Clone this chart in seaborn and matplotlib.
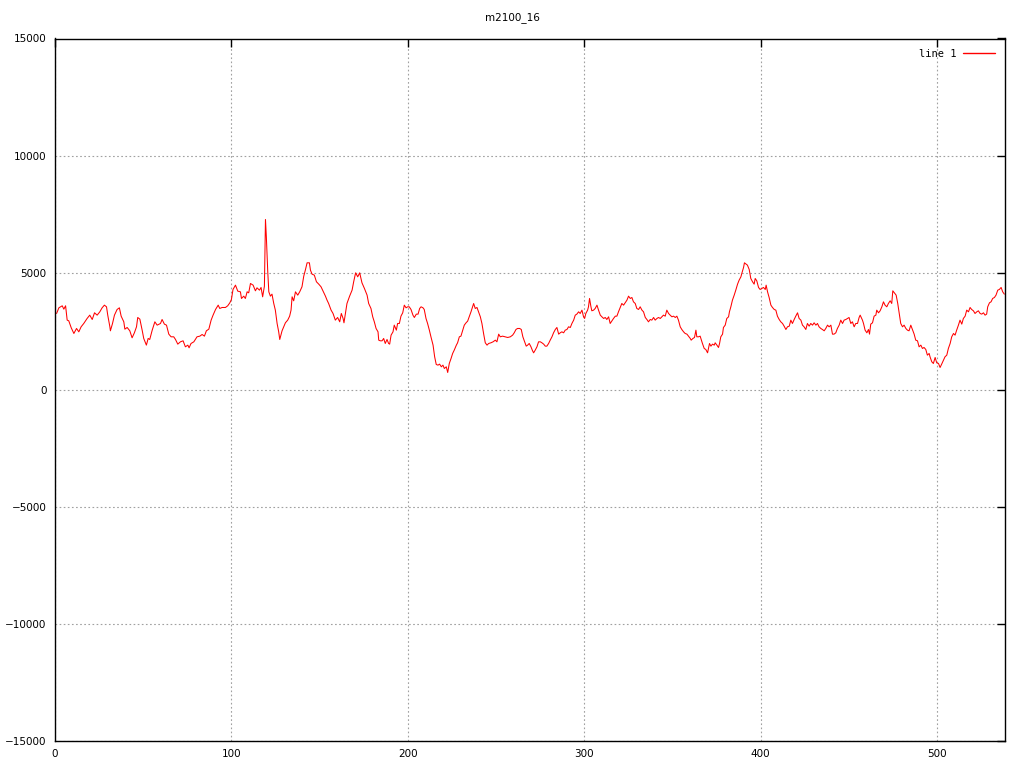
import pandas as pd
import matplotlib.pyplot as plt
import seaborn as sns

# values
title = 'm2100_16'
series_name = 'line 1'

idx = [0.9, 2.2, 4.1, 5.0, 6.0, 6.9, 7.8, 9.2, 10.7, 12.2, 13.5, 14.8, 16.3, 18.2, 19.7,
       21.1, 22.4, 23.9, 25.4, 26.7, 28.0, 29.2, 29.9, 31.1, 31.4, 32.6, 33.7, 35.2, 36.5,
       37.5, 39.0, 39.6, 40.9, 42.4, 43.7, 45.0, 46.2, 46.9, 48.1, 49.4, 50.3, 51.8, 52.8,
       53.7, 55.1, 56.6, 57.9, 59.8, 60.7, 62.0, 63.2, 64.5, 65.8, 67.3, 68.3, 69.6, 71.1,
       72.6, 73.9, 75.3, 76.0, 77.1, 78.7, 80.5, 82.1, 83.4, 84.7, 85.8, 87.2, 88.5, 89.6,
       91.0, 92.5, 93.4,
       94.7, 96.6, 97.9, 99.1, 100.0, 100.9, 102.3, 103.6, 105.1, 105.7, 107.0, 107.9,
       108.9, 109.8, 110.8, 112.3, 113.6, 114.5, 115.9, 116.8, 117.7, 118.7, 119.3, 119.8,
       120.6, 121.2, 122.1, 123.0, 124.0, 124.9, 125.9, 126.8, 127.4, 128.7, 130.6, 131.9,
       133.0, 133.8, 134.4, 135.3, 136.3, 137.6, 138.7, 140.0, 141.0, 141.9, 142.9, 144.2,
       144.8, 145.7, 147.0, 148.2, 149.5, 150.8, 151.9, 153.3, 154.2, 155.1, 156.5, 157.6,
       158.9, 160.2, 161.4, 162.3, 163.3, 163.8, 164.6, 165.5, 167.0, 168.4, 169.3, 170.4,
       171.6, 172.7, 174.0, 175.4, 176.9, 177.8, 179.1, 180.1, 181.0, 182.0, 183.1, 183.5,
       184.4,
       185.4, 186.3, 187.2, 188.2, 189.1, 189.7, 190.5, 191.6, 192.3, 193.5, 194.2, 195.2,
       196.1, 197.1, 198.0, 199.0, 199.9, 200.8, 201.8, 202.9, 203.7, 204.8, 205.8, 206.7,
       207.5, 208.6, 209.3, 210.3, 211.2, 212.2, 213.1, 214.3, 215.2, 216.1, 217.1, 218.0,
       219.0, 219.9, 220.7, 221.8, 222.6, 223.5, 224.5, 225.4, 226.3, 227.5, 228.2, 229.2,
       230.1, 231.1, 232.0, 233.0, 233.9, 234.8, 235.8, 236.7, 237.3, 238.2, 239.2, 240.1,
       241.1, 242.0, 243.0, 243.9, 244.9, 245.8, 247.1, 248.3, 249.6, 250.5, 251.5, 252.4,
       253.7, 255.2, 256.6, 258.1, 259.4, 260.3, 261.3, 262.2, 263.4, 264.3, 265.2, 266.2,
       267.1, 267.9, 268.8, 269.8, 270.7, 271.3, 272.2, 273.2, 274.1, 275.1,
       276.0, 277.0, 277.9, 278.8, 279.8, 280.7, 281.7, 282.6, 283.6, 284.5, 285.5, 286.4,
       287.3, 288.3, 289.2, 290.2, 291.1, 292.1, 293.0, 294.0, 294.9, 295.8, 296.8, 297.7,
       298.7, 299.6, 300.2, 300.9, 301.9, 302.4, 303.0, 303.8, 304.3, 305.3, 306.2, 307.2,
       308.1, 309.1, 310.0, 311.0, 311.9, 312.8, 313.8, 314.7, 315.7, 316.6, 317.6, 318.5,
       319.4, 320.4, 321.3, 322.3, 323.2, 324.2, 325.1, 326.1, 327.0, 327.9, 328.9, 329.8,
       330.8, 331.7, 332.7, 333.6, 334.6, 335.5, 336.4, 337.4, 338.3, 339.3, 340.2, 341.2,
       342.1, 343.1, 344.0, 344.9, 345.9, 346.8, 347.8, 348.7, 349.7, 350.6, 351.6, 352.5,
       353.4, 354.4, 355.3, 356.3, 357.2, 358.2, 359.1, 360.1, 360.6, 361.6, 362.5, 363.3,
       363.8, 364.8, 365.7,
       367.0, 368.0, 368.9, 369.9, 370.4, 371.0, 371.8, 372.7, 373.7, 374.2, 375.2, 376.1,
       376.7, 377.4, 378.4, 378.9, 379.9, 380.8, 381.8, 382.3, 383.1, 384.0, 385.0, 385.9,
       386.9, 387.8, 388.8, 389.3, 390.3, 390.8, 391.8, 392.5, 393.5, 394.4, 395.4, 396.3,
       396.9, 397.8, 398.8, 399.7, 400.7, 401.6, 402.6, 403.1, 403.9, 404.8, 405.8, 406.7,
       407.7, 408.6, 409.5, 410.5, 411.4, 412.4, 413.3, 414.3, 415.2, 416.2, 417.1, 418.0,
       419.0, 419.9, 420.9, 421.8, 422.8, 423.7, 424.6, 425.6, 426.5, 427.5, 428.4, 429.4,
       430.3, 431.3, 432.2, 433.1, 434.1, 435.0, 436.0, 436.9, 437.9, 438.8, 439.8, 440.7,
       441.6, 442.6, 443.5, 444.5, 445.4, 446.4, 447.3, 448.3, 449.2, 450.1, 451.1, 452.0,
       453.0, 453.9, 454.9, 455.8, 456.4,
       457.7, 458.3, 459.2, 460.2, 461.1, 461.7, 462.4, 463.4, 464.3, 465.3, 465.8, 466.8,
       467.7, 468.7, 469.6, 470.5, 471.5, 472.4, 473.4, 474.3, 474.9, 475.8, 476.8, 477.7,
       478.7, 479.4, 480.4, 481.3, 482.3, 483.2, 484.1, 485.1, 486.0, 487.0, 487.9, 488.9,
       489.8, 490.8, 491.7, 492.6, 493.6, 494.5, 495.5, 496.0, 497.0, 497.9, 498.9, 499.8,
       500.8, 501.7, 502.6, 503.6, 504.5, 505.5, 506.4, 507.4, 508.3, 509.3, 510.2, 511.1,
       512.1, 513.0, 514.0, 514.9, 515.9, 516.8, 517.8, 518.7, 519.6, 520.6, 521.5, 522.5,
       523.4, 524.4, 525.3, 526.3, 527.2, 528.1, 528.7, 529.7, 530.6, 531.5, 532.5, 533.4,
       534.4, 535.3, 536.3, 537.2, 538.1]

val = [3257, 3499, 3585, 3442, 3585, 2973, 2944, 2645, 2403, 2617, 2474, 2688, 2830, 3044, 3186,
       3001, 3286, 3186, 3328, 3499, 3613, 3542, 3186, 2688, 2517, 2830, 3186, 3428, 3499,
       3143, 2901, 2588, 2659, 2517, 2218, 2432, 2688, 3086, 3015, 2545, 2190, 1905, 2190,
       2147, 2545, 2901, 2759, 2830, 3001, 2802, 2759, 2375, 2261, 2261, 2147, 1948, 2047,
       2090, 1834, 1905, 1791, 1976, 2047, 2261, 2289, 2360, 2289, 2517, 2588, 2973, 3186,
       3428, 3613, 3471,
       3513, 3513, 3585, 3713, 3855, 4282, 4467, 4211, 4182, 3898, 3997, 3898,
       4182, 4140, 4538, 4467, 4225, 4353, 4254, 4368, 3969, 4424, 7271, 6531,
       5037, 4182, 3997, 4083, 3684, 3400, 2830, 2474, 2147, 2517, 2859, 2973,
       3143, 3400, 3969, 3798, 4182, 4040, 4182, 4396, 4851, 5108, 5421, 5421,
       5108, 4937, 4894, 4610, 4510, 4396, 4225, 3997, 3827, 3684, 3400, 3257,
       2973, 3086, 2901, 3257, 3044, 2859, 3257, 3684, 3997, 4254, 4610, 4994,
       4823, 4994, 4567, 4325, 4040, 3684, 3471, 3115, 2901, 2617, 2474, 2118,
       2090,
       2090, 2190, 1976, 2147, 1976, 1948, 2332, 2474, 2759, 2545, 2830, 2830,
       3143, 3286, 3613, 3499, 3542, 3542, 3428, 3186, 3086, 3229, 3229, 3471,
       3542, 3499, 3428, 3044, 2830, 2545, 2261, 1905, 1407, 1079, 1051, 1094,
       980, 1051, 908, 980, 738, 1122, 1335, 1549, 1691, 1905, 2005, 2261,
       2289, 2545, 2759, 2859, 2930, 3115, 3328, 3542, 3684, 3471, 3513, 3328,
       3115, 2830, 2375, 2005, 1905, 1976, 2005, 2047, 2118, 2047, 2375, 2261,
       2289, 2261, 2232, 2261, 2332, 2432, 2574, 2617, 2617, 2574, 2261, 2047,
       1862, 1905, 1976, 1834, 1663, 1577, 1691, 1834, 2047, 2047,
       2005, 1948, 1862, 1862, 1976, 2118, 2261, 2432, 2574, 2659, 2375, 2432,
       2474, 2432, 2545, 2574, 2688, 2659, 2830, 2973, 3186, 3229, 3328, 3257,
       3400, 3115, 3044, 3257, 3400, 3542, 3898, 3542, 3371, 3400, 3471, 3613,
       3400, 3186, 3115, 3044, 3086, 3001, 3115, 2830, 2944, 3044, 3143, 3143,
       3328, 3513, 3684, 3613, 3713, 3827, 3997, 3898, 3940, 3755, 3684, 3471,
       3428, 3542, 3400, 3328, 3086, 3001, 2901, 3001, 2973, 3086, 2973, 3044,
       3086, 3044, 3115, 3186, 3143, 3400, 3257, 3186, 3115, 3143, 3086, 3143,
       2973, 2688, 2574, 2474, 2403, 2375, 2289, 2190, 2118, 2190, 2232, 2545,
       2261, 2261, 2289,
       1976, 1763, 1720, 1577, 1763, 1976, 1862, 1948, 1905, 2005, 1905, 1805,
       1976, 2261, 2375, 2659, 2759, 3044, 3115, 3328, 3542, 3827, 4040, 4254,
       4510, 4681, 4823, 4965, 5222, 5421, 5364, 5321, 5136, 4752, 4610, 4510,
       4752, 4652, 4368, 4282, 4325, 4368, 4282, 4467, 4182, 3940, 3613, 3513,
       3428, 3400, 3143, 3001, 2901, 2830, 2716, 2574, 2688, 2716, 2973, 2830,
       3001, 3143, 3286, 3044, 2973, 2759, 2688, 2574, 2830, 2716, 2830, 2759,
       2859, 2759, 2830, 2688, 2617, 2574, 2517, 2617, 2759, 2688, 2759, 2375,
       2375, 2432, 2617, 2759, 2973, 2830, 2973, 3001, 3044, 3086, 2830, 2901,
       2688, 2830, 2830, 3086, 3186,
       2973, 2830, 2545, 2432, 2574, 2375, 2802, 2859, 3143, 3186, 3400, 3286,
       3371, 3542, 3755, 3613, 3542, 3684, 3798, 3684, 4225, 4140, 4040, 3684,
       3186, 2830, 2688, 2759, 2617, 2545, 2517, 2759, 2574, 2375, 2118, 2090,
       1834, 1905, 1763, 1805, 1720, 1478, 1549, 1407, 1193, 1122, 1378, 1150,
       1122, 951, 1094, 1264, 1407, 1478, 1763, 1976, 2261, 2403, 2332, 2545,
       2759, 2973, 2802, 3044, 3143, 3400, 3328, 3513, 3428, 3371, 3257, 3328,
       3371, 3257, 3229, 3286, 3186, 3229, 3542, 3713, 3755, 3898, 3940, 4040,
       4254, 4282, 4368, 4182, 4083]

x_ticks = [0, 100, 200, 300, 400, 500]
y_ticks = [-15000, -10000, -5000, 0, 5000, 10000, 15000]

df = pd.DataFrame({'x': idx, 'y': val})

sns.set_style('white')
plt.rcParams['font.family'] = ['DejaVu Sans']

fig = plt.figure(figsize=(10.24, 7.68), dpi=100)
ax = fig.add_axes([55 / 1024, 1 - 741 / 768, 950 / 1024, (741 - 38.5) / 768])

sns.lineplot(data=df, x='x', y='y', color='red', linewidth=0.75, label=series_name, ax=ax)

ax.set_xlim(0, 538.5)
ax.set_ylim(-15000, 15000)
ax.set_xticks(x_ticks)
ax.set_yticks(y_ticks)
ax.set_xlabel('')
ax.set_ylabel('')
ax.grid(True, color='#a0a0a0', linestyle=(0, (1.5, 2.2)), linewidth=0.8)
ax.tick_params(direction='in', length=6, width=1, top=True, right=True,
               labelsize=7.5, colors='black', pad=6)
for s in ax.spines.values():
    s.set_color('black')
    s.set_linewidth(1)

leg = ax.legend(loc='upper right', frameon=False, markerfirst=False,
                handlelength=3.0, handletextpad=0.7, borderaxespad=0.6,
                prop={'family': 'DejaVu Sans Mono', 'size': 7.5})
for t in leg.get_texts():
    t.set_color('black')
for h in leg.get_lines():
    h.set_color('red')
    h.set_linewidth(1.0)

fig.text(0.5, 1 - 18 / 768, title, ha='center', va='center', fontsize=7.5, color='black')

plt.savefig('out.png', dpi=100)
